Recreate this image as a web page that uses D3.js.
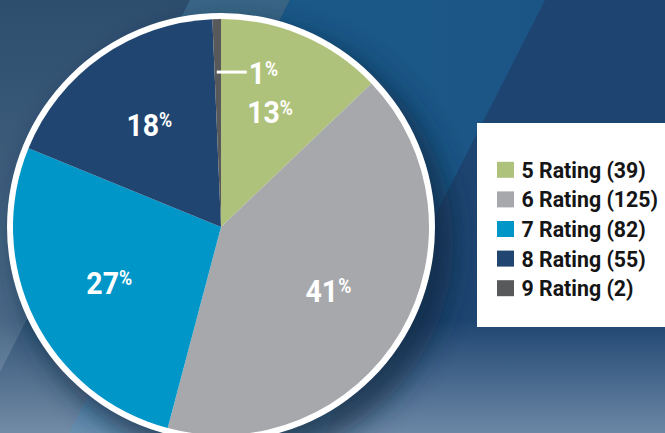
<!DOCTYPE html>
<html>
<head>
<meta charset="utf-8">
<script src="https://cdn.jsdelivr.net/npm/d3@7"></script>
<style>
  html, body { margin: 0; padding: 0; background: #1e4571; }
  svg { display: block; }
  .lbl { font-family: Roboto, "Liberation Sans", sans-serif; font-weight: bold; fill: #fff; }
  .leg { font-family: Roboto, "Liberation Sans", sans-serif; font-weight: bold; fill: #151515; }
</style>
</head>
<body>
<svg id="chart" width="665" height="433"></svg>
<script>
// data
var ratings = ["5 Rating", "6 Rating", "7 Rating", "8 Rating", "9 Rating"];
var counts = [39, 125, 82, 55, 2];
var pctLabels = ["13", "41", "27", "18", "1"];
var colors = ["#afc27b", "#a7a8ac", "#0096c8", "#1f4570", "#58595b"];

var width = 665, height = 433;
var cx = 221, cy = 227, radius = 208, border = 6;

var svg = d3.select("#chart");
var defs = svg.append("defs");

// background
var gTop = defs.append("linearGradient").attr("id", "gTop").attr("x1", 0).attr("y1", 0).attr("x2", 0).attr("y2", 1);
gTop.append("stop").attr("offset", "0%").attr("stop-color", "#2d4e6d");
gTop.append("stop").attr("offset", "100%").attr("stop-color", "#4f6d8b");

var gBand = defs.append("linearGradient").attr("id", "gBand").attr("x1", 0).attr("y1", 0).attr("x2", 0).attr("y2", 1);
gBand.append("stop").attr("offset", "0%").attr("stop-color", "#3a6686");
gBand.append("stop").attr("offset", "100%").attr("stop-color", "#2f4f72");

var gMid = defs.append("linearGradient").attr("id", "gMid").attr("x1", 0).attr("y1", 0).attr("x2", 1).attr("y2", 0);
gMid.append("stop").attr("offset", "0%").attr("stop-color", "#1a5b8b");
gMid.append("stop").attr("offset", "100%").attr("stop-color", "#1b5585");

var gBottom = defs.append("linearGradient").attr("id", "gBottom").attr("x1", 0).attr("y1", 0).attr("x2", 0).attr("y2", 1);
gBottom.append("stop").attr("offset", "0%").attr("stop-color", "#9fb3c8").attr("stop-opacity", 0);
gBottom.append("stop").attr("offset", "100%").attr("stop-color", "#9fb3c8").attr("stop-opacity", 0.6);

var blur = defs.append("filter").attr("id", "blur").attr("x", "-30%").attr("y", "-30%").attr("width", "160%").attr("height", "160%");
blur.append("feGaussianBlur").attr("stdDeviation", 14);

var slope = 0.51;
var bg = svg.append("g");
bg.append("rect").attr("width", width).attr("height", height).attr("fill", "#1e4571");
bg.append("polygon").attr("points", [[0, 0], [190, 0], [0, 190 / slope]].join(" ")).attr("fill", "url(#gTop)");
bg.append("polygon").attr("points", [[190, 0], [290, 0], [290 - height * slope, height], [0, height], [0, 190 / slope]].join(" ")).attr("fill", "url(#gBand)");
bg.append("polygon").attr("points", [[290, 0], [545, 0], [545 - height * slope, height], [290 - height * slope, height]].join(" ")).attr("fill", "url(#gMid)");
bg.append("rect").attr("y", 320).attr("width", width).attr("height", height - 320).attr("fill", "url(#gBottom)");

// pie shadow
svg.append("circle")
  .attr("cx", cx + 14).attr("cy", cy + 16)
  .attr("r", radius + border + 4)
  .attr("fill", "#0e2640")
  .attr("opacity", 0.7)
  .attr("filter", "url(#blur)");

var g = svg.append("g").attr("transform", "translate(" + cx + "," + cy + ")");

g.append("circle").attr("r", radius + border).attr("fill", "#fff");

var pie = d3.pie().sort(null).value(d => d);
var arcs = pie(counts);
var arc = d3.arc().innerRadius(0).outerRadius(radius);

g.selectAll("path.slice")
  .data(arcs)
  .enter()
  .append("path")
  .attr("class", "slice")
  .attr("d", arc)
  .attr("fill", (d, i) => colors[i]);

var labelArc = d3.arc().innerRadius(radius * 0.6).outerRadius(radius * 0.6);
var leadArc = d3.arc().innerRadius(radius * 0.745).outerRadius(radius * 0.745);

function pctText(x, y, anchor, i) {
  var t = g.append("text").attr("class", "lbl")
    .attr("transform", "translate(" + x + "," + y + ") scale(0.89,1)")
    .attr("text-anchor", anchor)
    .style("font-size", "32px");
  t.append("tspan").text(pctLabels[i]);
  t.append("tspan").attr("dy", -8.5).style("font-size", "20px").text("%");
}

// big percentage labels
arcs.forEach(function(d, i) {
  var p;
  if (i == 4) {
    p = leadArc.centroid(d);
    g.append("line")
      .attr("x1", p[0] - 1).attr("y1", p[1])
      .attr("x2", p[0] + 29).attr("y2", p[1])
      .attr("stroke", "#fff").attr("stroke-width", 3);
    pctText(p[0] + 31, p[1] + 12, "start", i);
    return;
  }
  p = labelArc.centroid(d);
  pctText(p[0], p[1] + 11, "middle", i);
});

// legend
var legend = svg.append("g").attr("transform", "translate(477,123)");
legend.append("rect").attr("width", 200).attr("height", 204).attr("fill", "#fff");

var rowY = d3.scaleBand().domain(ratings).range([32, 180]);

var rows = legend.selectAll("g.row")
  .data(ratings)
  .enter()
  .append("g")
  .attr("class", "row")
  .attr("transform", d => "translate(20," + (rowY(d) + rowY.bandwidth() / 2) + ")");

rows.append("rect")
  .attr("x", 0).attr("y", -8)
  .attr("width", 17).attr("height", 16)
  .attr("fill", (d, i) => colors[i]);

rows.append("text")
  .attr("class", "leg")
  .attr("transform", "translate(24.5,8) scale(0.97,1)")
  .style("font-size", "22px")
  .text((d, i) => d + " (" + counts[i] + ")");
</script>
</body>
</html>
